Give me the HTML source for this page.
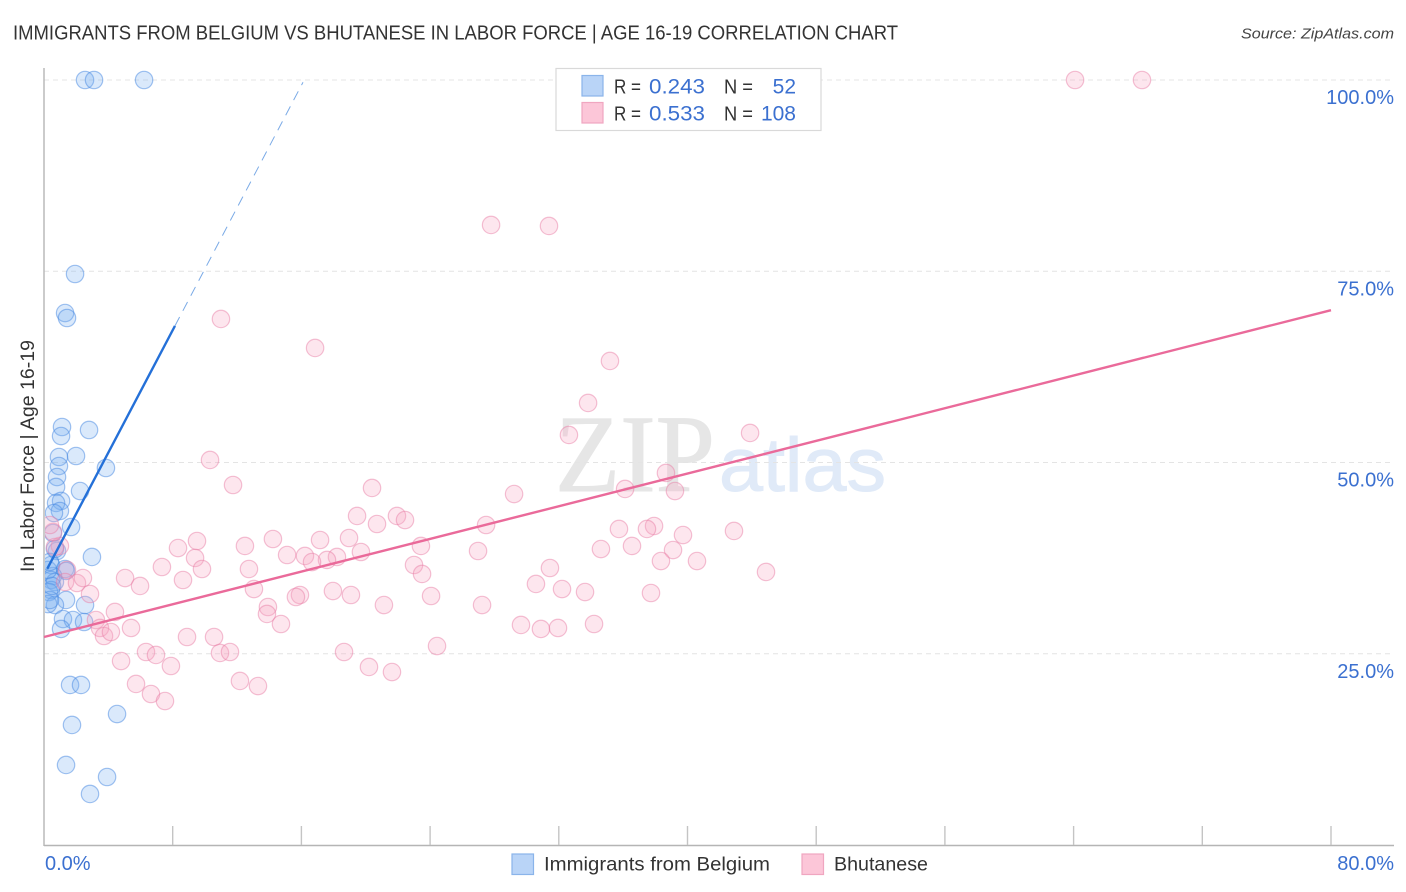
<!DOCTYPE html>
<html>
<head>
<meta charset="utf-8">
<title>Immigrants from Belgium vs Bhutanese in Labor Force</title>
<style>
html,body{margin:0;padding:0;background:#fff;width:1406px;height:892px;overflow:hidden}
svg{display:block;font-family:"Liberation Sans",sans-serif}
</style>
</head>
<body>
<svg id="chart" width="1406" height="892" viewBox="0 0 1406 892" xmlns="http://www.w3.org/2000/svg">
  <defs>
    <clipPath id="plot-clip"><rect x="45" y="60" width="1350" height="785"/></clipPath>
  </defs>
  <text x="13" y="39.500" font-size="20" fill="#333" textLength="885" lengthAdjust="spacingAndGlyphs">IMMIGRANTS FROM BELGIUM VS BHUTANESE IN LABOR FORCE | AGE 16-19 CORRELATION CHART</text>
  <text x="1394" y="38.500" font-size="15" font-style="italic" fill="#444" text-anchor="end" textLength="153" lengthAdjust="spacingAndGlyphs">Source: ZipAtlas.com</text>

  <g>
    <text x="555" y="491" font-family="'Liberation Serif',serif" font-size="110" fill="#e6e6e6" stroke="#e6e6e6" stroke-width="1" textLength="160" lengthAdjust="spacingAndGlyphs">ZIP</text>
    <text x="719" y="491" font-size="76" fill="#e0eaf8" stroke="#e0eaf8" stroke-width="1" textLength="167" lengthAdjust="spacingAndGlyphs">atlas</text>
  </g>

  <g id="grid"></g>
  <g id="axes"></g>
  <g id="points" clip-path="url(#plot-clip)"></g>
  <g id="trends"></g>
  <g id="labels"></g>

  <text transform="translate(34,572) rotate(-90)" font-size="19" fill="#333" textLength="232" lengthAdjust="spacingAndGlyphs">In Labor Force | Age 16-19</text>

  <g>
    <rect x="556" y="68.500" width="265" height="62" fill="#fff" stroke="#d9d9d9" stroke-width="1.200"/>
    <rect x="582" y="75.500" width="21" height="20.500" fill="#b9d4f7" stroke="#8ab4ea" stroke-width="1.200"/>
    <rect x="582" y="102.500" width="21" height="20.500" fill="#fcc6d8" stroke="#f0a6c0" stroke-width="1.200"/>
    <text x="614" y="93.500" font-size="20" fill="#333" textLength="27" lengthAdjust="spacingAndGlyphs">R =</text>
    <text x="649" y="93.500" font-size="21" fill="#3b70d0" textLength="56" lengthAdjust="spacingAndGlyphs">0.243</text>
    <text x="724" y="93.500" font-size="20" fill="#333" textLength="29" lengthAdjust="spacingAndGlyphs">N =</text>
    <text x="796" y="93.500" font-size="21" fill="#3b70d0" text-anchor="end">52</text>
    <text x="614" y="120.500" font-size="20" fill="#333" textLength="27" lengthAdjust="spacingAndGlyphs">R =</text>
    <text x="649" y="120.500" font-size="21" fill="#3b70d0" textLength="56" lengthAdjust="spacingAndGlyphs">0.533</text>
    <text x="724" y="120.500" font-size="20" fill="#333" textLength="29" lengthAdjust="spacingAndGlyphs">N =</text>
    <text x="796" y="120.500" font-size="21" fill="#3b70d0" text-anchor="end">108</text>
  </g>

  <g>
    <rect x="512" y="854" width="21.500" height="20.500" fill="#b9d4f7" stroke="#8ab4ea" stroke-width="1.200"/>
    <text x="544" y="870.500" font-size="19.500" fill="#333" textLength="226" lengthAdjust="spacingAndGlyphs">Immigrants from Belgium</text>
    <rect x="802" y="854" width="21.500" height="20.500" fill="#fcc6d8" stroke="#f0a6c0" stroke-width="1.200"/>
    <text x="834" y="870.500" font-size="19.500" fill="#333" textLength="94" lengthAdjust="spacingAndGlyphs">Bhutanese</text>
  </g>
</svg>
<script>
// Series values, percent
var belgiumX = [2.55,3.11,6.22,1.93,1.31,1.43,1.12,1.06,2.80,1.99,0.93,0.93,3.85,0.81,0.75,2.24,1.06,0.75,0.99,0.62,1.68,0.56,0.81,0.68,2.98,0.44,1.31,1.37,0.56,0.44,0.68,0.44,0.31,1.37,2.55,0.68,0.25,1.18,1.80,2.49,1.06,1.62,2.30,1.74,4.54,1.37,3.92,2.86,0.25,0.37,0.50,0.37];
var belgiumY = [100,100,100,74.64,69.54,68.89,54.64,53.46,54.25,50.85,50.72,49.54,49.28,48.10,46.80,46.27,44.97,44.71,43.66,43.40,41.57,40.78,38.43,38.69,37.65,36.60,36.08,35.82,35.16,34.64,34.38,33.33,33.07,32.03,31.37,31.37,31.50,29.54,29.41,29.15,28.24,20.92,20.92,15.69,17.12,10.46,8.89,6.67,35.95,32.03,33.86,37.00];
var bhutaneseX = [64.09,68.25,27.79,31.39,11.00,16.85,35.18,33.82,32.63,43.89,10.32,38.66,11.75,20.39,36.12,39.22,29.22,19.46,21.94,22.44,20.70,27.48,37.92,35.74,37.48,42.89,39.72,9.51,14.23,17.16,18.96,8.33,12.49,36.55,23.43,34.62,26.98,39.10,15.11,19.70,16.22,9.39,18.21,17.59,16.66,7.33,9.82,12.74,23.00,23.50,31.45,38.35,40.59,44.88,5.04,8.64,30.58,32.20,13.05,17.96,5.97,33.63,37.73,19.08,24.06,15.91,15.66,21.13,27.23,2.86,4.41,13.92,13.86,14.73,29.65,30.89,31.95,34.19,3.23,3.48,5.41,3.73,4.16,8.89,10.57,24.43,6.34,6.96,10.94,11.56,18.65,4.79,7.89,20.20,21.63,12.18,13.30,5.72,6.65,7.52,0.99,0.68,0.56,0.37,1.43,1.31,2.05,2.42];
var bhutaneseY = [100,100,81.05,80.92,68.76,64.97,63.27,57.78,53.60,53.86,50.33,48.63,47.06,46.67,46.54,46.27,45.88,43.01,43.01,42.48,41.96,41.83,41.70,41.31,41.31,41.05,40.52,39.74,40.00,39.87,40.13,38.82,39.09,39.09,39.09,38.69,38.43,38.56,37.91,38.30,37.78,37.52,37.65,37.26,36.99,36.34,36.08,36.08,36.60,35.43,36.21,37.12,37.12,35.69,34.90,34.64,34.12,33.46,33.46,33.20,33.86,33.07,32.94,32.68,32.55,32.68,32.42,31.37,31.37,32.81,30.46,31.11,30.20,28.89,28.76,28.24,28.37,28.89,29.41,28.37,28.37,27.32,27.84,27.19,27.19,26.01,25.23,24.84,25.10,25.23,25.23,24.05,23.40,23.27,22.61,21.44,20.78,21.05,19.74,18.82,39.09,38.95,40.92,41.83,35.95,34.38,34.25,34.90];

// Regression parameters
var belgiumTrend = [35.3, 4.0];
var belgiumSolidRange = [0.2, 8.14];
var belgiumDashedRange = [8.14, 16.1];
var bhutaneseTrend = [27.19, 0.534];
var bhutaneseRange = [0, 80];

// Axis ticks and labels
var xTicks = [8,16,24,32,40,48,56,64,72,80];
var yGridValues = [100,75,50,25];
var yTickLabels = ['100.0%','75.0%','50.0%','25.0%'];
var xEndLabels = ['0.0%','80.0%'];

var NS = 'http://www.w3.org/2000/svg';
function xScale(v){ return 44 + v * (1331 - 44) / 80; }
function yScale(v){ return 845 - v * (845 - 80) / 100; }
function make(tag, attrs, parent){
  var el = document.createElementNS(NS, tag);
  for (var k in attrs) el.setAttribute(k, attrs[k]);
  parent.appendChild(el);
  return el;
}
var grid = document.getElementById('grid');
var axes = document.getElementById('axes');
var points = document.getElementById('points');
var trends = document.getElementById('trends');
var labels = document.getElementById('labels');

yGridValues.forEach(function(v){
  var line = make('line', {x1:44, x2:1394, y1:yScale(v), y2:yScale(v), stroke:'#e4e4e4', 'stroke-width':1, 'stroke-dasharray':'5 4'}, grid);
  
  
});

var yAxis = make('line', {x1:44, x2:44, y1:68, y2:846, stroke:'#b5b5b5', 'stroke-width':1.4}, axes);


var xAxis = make('line', {x1:44, x2:1394, y1:845.5, y2:845.5, stroke:'#b5b5b5', 'stroke-width':1.4}, axes);


xTicks.forEach(function(v){
  var t = make('line', {x1:xScale(v), x2:xScale(v), y1:826, y2:845, stroke:'#c4c4c4', 'stroke-width':1.4}, axes);
  
  
});

function drawPoints(xs, ys, fill, stroke, name){
  xs.forEach(function(x, i){
    var c = make('circle', {cx:xScale(x), cy:yScale(ys[i]), r:8.7, fill:fill, stroke:stroke, 'stroke-width':1.2}, points);
    
    
  });
}
drawPoints(belgiumX, belgiumY, 'rgba(120,172,240,0.27)', 'rgba(70,135,225,0.50)', 'point-belgium');
drawPoints(bhutaneseX, bhutaneseY, 'rgba(248,165,195,0.28)', 'rgba(232,125,165,0.48)', 'point-bhutanese');

function trendValue(p, x){ return p[0] + p[1] * x; }
function drawTrend(p, range, color, width, dash, name){
  var l = make('line', {x1:xScale(range[0]), y1:yScale(trendValue(p, range[0])), x2:xScale(range[1]), y2:yScale(trendValue(p, range[1])), stroke:color, 'stroke-width':width}, trends);
  if (dash) l.setAttribute('stroke-dasharray', dash);
  
  
}
drawTrend(bhutaneseTrend, bhutaneseRange, '#ea6a9a', 2.4, null, 'trend-line-bhutanese');
drawTrend(belgiumTrend, belgiumSolidRange, '#2470d8', 2.4, null, 'trend-line-belgium');
drawTrend(belgiumTrend, belgiumDashedRange, '#7aaae6', 1, '10 7', 'trend-line-belgium-projection');

yTickLabels.forEach(function(s, i){
  var t = make('text', {x:1394, y:yScale(yGridValues[i]) + 24, 'text-anchor':'end', 'font-size':20, fill:'#3b70d0'}, labels);
  t.textContent = s;
  
  
});
var x0 = make('text', {x:45, y:870, 'font-size':20, fill:'#3b70d0'}, labels);
x0.textContent = xEndLabels[0];


var x1 = make('text', {x:1394, y:870, 'text-anchor':'end', 'font-size':20, fill:'#3b70d0'}, labels);
x1.textContent = xEndLabels[1];


</script>
</body>
</html>
